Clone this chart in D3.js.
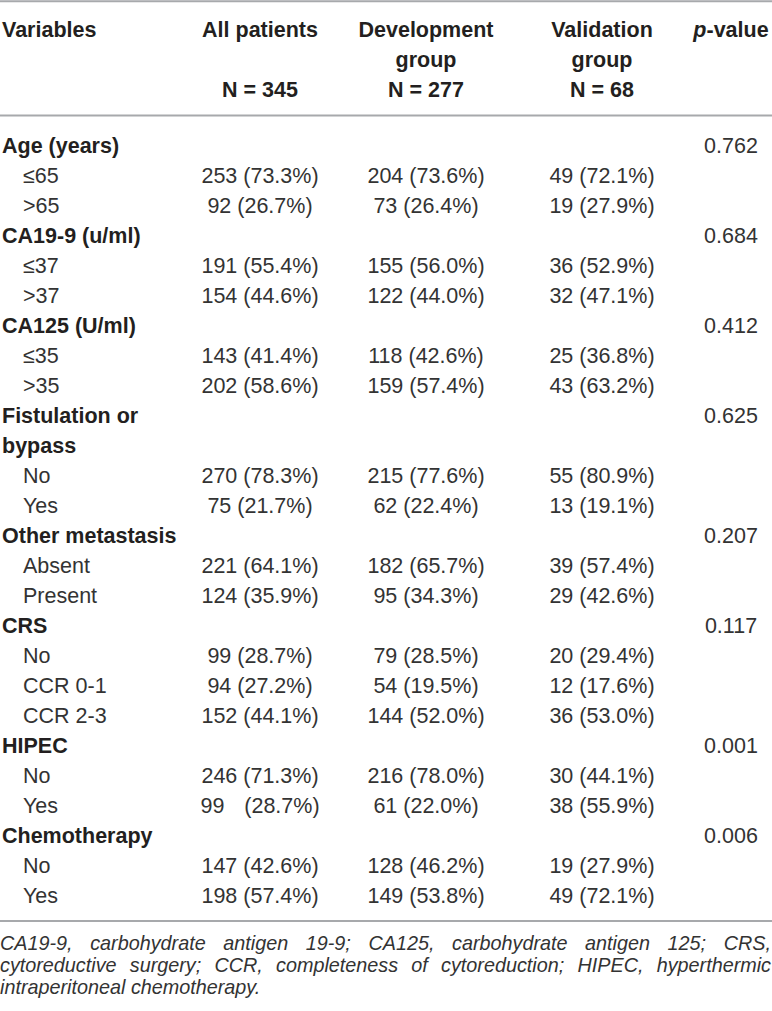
<!DOCTYPE html>
<html>
<head>
<meta charset="utf-8">
<script src="https://cdn.jsdelivr.net/npm/d3@7"></script>
<style>
  html, body { margin: 0; padding: 0; background: #fff; }
  svg { display: block; }
  text { font-family: "Liberation Sans", Arial, Helvetica, sans-serif; }
</style>
</head>
<body>
<svg id="chart" width="772" height="1011"></svg>
<script>
// ---------- data ----------
const headerLines = [
  ["Variables", "", ""],
  ["All patients", "", "N = 345"],
  ["Development", "group", "N = 277"],
  ["Validation", "group", "N = 68"]
];
const variables = ["Age (years)", "CA19-9 (u/ml)", "CA125 (U/ml)", "Fistulation or bypass",
  "Other metastasis", "CRS", "HIPEC", "Chemotherapy"];
const variableLines = [["Age (years)"], ["CA19-9 (u/ml)"], ["CA125 (U/ml)"], ["Fistulation or", "bypass"],
  ["Other metastasis"], ["CRS"], ["HIPEC"], ["Chemotherapy"]];
const pValues = ["0.762", "0.684", "0.412", "0.625", "0.207", "0.117", "0.001", "0.006"];
const levels = [
  ["\u226465", ">65"],
  ["\u226437", ">37"],
  ["\u226435", ">35"],
  ["No", "Yes"],
  ["Absent", "Present"],
  ["No", "CCR 0-1", "CCR 2-3"],
  ["No", "Yes"],
  ["No", "Yes"]
];
const allCounts = [[253, 92], [191, 154], [143, 202], [270, 75], [221, 124], [99, 94, 152], [246, 99], [147, 198]];
const allPct = [[73.3, 26.7], [55.4, 44.6], [41.4, 58.6], [78.3, 21.7], [64.1, 35.9], [28.7, 27.2, 44.1], [71.3, 28.7], [42.6, 57.4]];
const devCounts = [[204, 73], [155, 122], [118, 159], [215, 62], [182, 95], [79, 54, 144], [216, 61], [128, 149]];
const devPct = [[73.6, 26.4], [56.0, 44.0], [42.6, 57.4], [77.6, 22.4], [65.7, 34.3], [28.5, 19.5, 52.0], [78.0, 22.0], [46.2, 53.8]];
const valCounts = [[49, 19], [36, 32], [25, 43], [55, 13], [39, 29], [20, 12, 36], [30, 38], [19, 49]];
const valPct = [[72.1, 27.9], [52.9, 47.1], [36.8, 63.2], [80.9, 19.1], [57.4, 42.6], [29.4, 17.6, 53.0], [44.1, 55.9], [27.9, 72.1]];
// cell printed with a wide gap between count and percentage in the source: [variable, level, column]
const wideGapCells = [[6, 1, 0]];
const footLines = [
  "CA19-9, carbohydrate antigen 19-9; CA125, carbohydrate antigen 125; CRS,",
  "cytoreductive surgery; CCR, completeness of cytoreduction; HIPEC, hyperthermic",
  "intraperitoneal chemotherapy."
];

// ---------- build rows ----------
const rows = [];
variables.forEach((v, i) => {
  variableLines[i].forEach((ln, k) => {
    rows.push({ type: "head", label: ln, p: k === 0 ? pValues[i] : "" });
  });
  levels[i].forEach((lv, j) => {
    rows.push({
      type: "level", label: lv,
      cells: [[allCounts[i][j], allPct[i][j]], [devCounts[i][j], devPct[i][j]], [valCounts[i][j], valPct[i][j]]],
      wide: wideGapCells.filter(w => w[0] === i && w[1] === j).map(w => w[2])
    });
  });
});

// ---------- layout ----------
const W = 772, H = 1011;
const svg = d3.select("#chart");
const fs = 21.5;
const y = d3.scalePoint().domain(d3.range(rows.length)).range([145, 895]);
const colX = d3.scaleOrdinal().domain([0, 1, 2, 3]).range([260, 426, 602, 731]);
const headY = d3.scalePoint().domain([0, 1, 2]).range([29, 89]);
const pctFmt = d3.format(".1f");
const textColor = "#231f20";
const bodyColor = "#333333";
const ruleColor = "#a7a9ac";

// rules
[1.2, 115.5, 921].forEach(yy => {
  svg.append("line").attr("x1", 0).attr("x2", W).attr("y1", yy).attr("y2", yy)
    .attr("stroke", ruleColor).attr("stroke-width", 2);
});

// header
headerLines.forEach((lines, c) => {
  lines.forEach((t, r) => {
    if (!t) return;
    svg.append("text")
      .attr("x", c === 0 ? 2 : colX(c - 1))
      .attr("y", headY(r)).attr("dy", "0.35em")
      .attr("text-anchor", c === 0 ? "start" : "middle")
      .attr("font-size", fs).attr("font-weight", "bold").attr("fill", textColor)
      .text(t);
  });
});
const pv = svg.append("text").attr("x", colX(3)).attr("y", headY(0)).attr("dy", "0.35em")
  .attr("text-anchor", "middle").attr("font-size", fs).attr("font-weight", "bold").attr("fill", textColor);
pv.append("tspan").attr("font-style", "italic").text("p");
pv.append("tspan").text("-value");

// body
const g = svg.append("g");
rows.forEach((r, i) => {
  const yy = y(i);
  if (r.type === "head") {
    g.append("text").attr("x", 2).attr("y", yy).attr("dy", "0.35em")
      .attr("font-size", fs).attr("font-weight", "bold").attr("fill", textColor).text(r.label);
    if (r.p) {
      g.append("text").attr("x", colX(3)).attr("y", yy).attr("dy", "0.35em")
        .attr("text-anchor", "middle").attr("font-size", fs).attr("fill", bodyColor).text(r.p);
    }
  } else {
    g.append("text").attr("x", 23).attr("y", yy).attr("dy", "0.35em")
      .attr("font-size", fs).attr("fill", bodyColor).text(r.label);
    r.cells.forEach((cell, c) => {
      const s = `${cell[0]} (${pctFmt(cell[1])}%)`;
      if (r.wide.includes(c)) {
        // count aligned to a 3-digit width, percentage pushed right
        const ref = g.append("text").attr("font-size", fs).attr("visibility", "hidden").text(`000 (${pctFmt(cell[1])}%)`);
        const wRef = ref.node().getComputedTextLength(); ref.remove();
        const x0 = colX(c) - wRef / 2;
        g.append("text").attr("x", x0 - 1).attr("y", yy).attr("dy", "0.35em")
          .attr("font-size", fs).attr("fill", bodyColor).text(String(cell[0]));
        g.append("text").attr("x", x0 + wRef + 1).attr("y", yy).attr("dy", "0.35em").attr("text-anchor", "end")
          .attr("font-size", fs).attr("fill", bodyColor).text(`(${pctFmt(cell[1])}%)`);
      } else {
        g.append("text").attr("x", colX(c)).attr("y", yy).attr("dy", "0.35em")
          .attr("text-anchor", "middle").attr("font-size", fs).attr("fill", bodyColor).text(s);
      }
    });
  }
});

// footnote (justified lines)
const fns = 19.8;
const footY = d3.scalePoint().domain([0, 1, 2]).range([943, 987]);
footLines.forEach((ln, li) => {
  const words = ln.split(" ");
  const t = svg.append("text").attr("y", footY(li)).attr("dy", "0.35em")
    .attr("font-size", fns).attr("font-style", "italic").attr("fill", bodyColor);
  const spans = words.map(w => t.append("tspan").text(w));
  const widths = spans.map(s => s.node().getComputedTextLength());
  const total = d3.sum(widths);
  const justify = li < footLines.length - 1;
  const gap = justify ? (W - 1 - total) / (words.length - 1) : fns * 0.278;
  let x = 0;
  spans.forEach((s, k) => { s.attr("x", x); x += widths[k] + gap; });
});
</script>
</body>
</html>
